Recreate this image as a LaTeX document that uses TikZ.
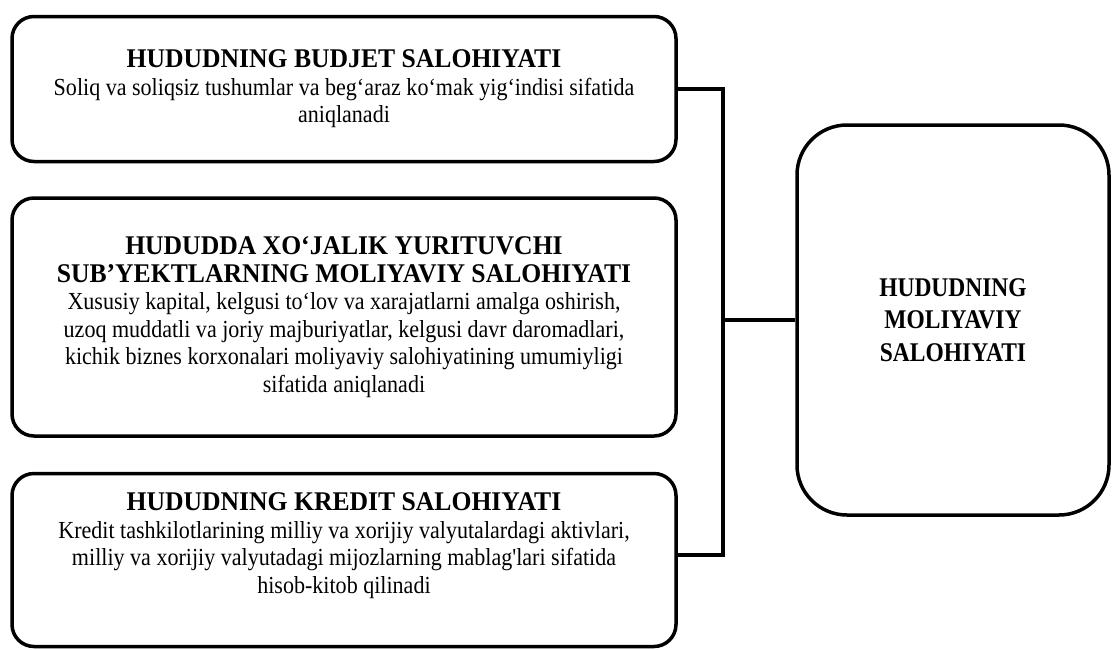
\documentclass[tikz,border=0pt]{standalone}
\usepackage{fontspec}
\setmainfont{Liberation Serif}[Ligatures=TeXOff]
\newfontfamily\bodyfont{Liberation Serif}[FakeStretch=0.9,Ligatures=TeXOff]
\newfontfamily\headfont{Liberation Serif}[FakeStretch=0.95,Ligatures=TeXOff]
\newfontfamily\finfont{Liberation Serif}[FakeStretch=0.87,Ligatures=TeXOff]
\newcommand{\hd}[1]{{\headfont\bfseries\fontsize{27}{27.5}\selectfont #1}}

\begin{document}
\begin{tikzpicture}[x=1pt,y=-1pt,line width=3.5pt]
    \tikzstyle{lbox}=[rectangle, rounded corners=22pt, draw, align=center, minimum width=664pt, inner sep=0pt, font=\bodyfont\fontsize{24.5}{27.5}\selectfont]
    \tikzstyle{bigbox}=[rectangle, rounded corners=50pt, draw, align=center, minimum width=312pt, minimum height=390pt, inner sep=0pt, font=\finfont\bfseries\fontsize{27}{32.5}\selectfont]

    \useasboundingbox (0,0) rectangle (1112,649);

    \node[lbox, minimum height=145pt] (b1) at (344,89) {\hd{HUDUDNING BUDJET SALOHIYATI}\\ Soliq va soliqsiz tushumlar va beg‘araz ko‘mak yig‘indisi sifatida\\ aniqlanadi};
    \node[lbox, minimum height=238pt] (b2) at (344,317) {\hd{HUDUDDA XO‘JALIK YURITUVCHI}\\ \hd{SUB’YEKTLARNING MOLIYAVIY SALOHIYATI}\\ Xususiy kapital, kelgusi to‘lov va xarajatlarni amalga oshirish,\\ uzoq muddatli va joriy majburiyatlar, kelgusi davr daromadlari,\\ kichik biznes korxonalari moliyaviy salohiyatining umumiyligi\\ sifatida aniqlanadi};
    \node[lbox, minimum height=173pt, text depth=34pt] (b3) at (344,560) {\hd{HUDUDNING KREDIT SALOHIYATI}\\ Kredit tashkilotlarining milliy va xorijiy valyutalardagi aktivlari,\\ milliy va xorijiy valyutadagi mijozlarning mablag'lari sifatida\\ hisob-kitob qilinadi};
    \node[bigbox] (fin) at (953,320) {HUDUDNING\\ MOLIYAVIY\\ SALOHIYATI};

    \coordinate (bus) at (723,320);
    \draw (b1.east) -| (bus) |- ([yshift=5pt]b3.east);
    \draw (bus) -- (fin.west);

\end{tikzpicture}
\end{document}
